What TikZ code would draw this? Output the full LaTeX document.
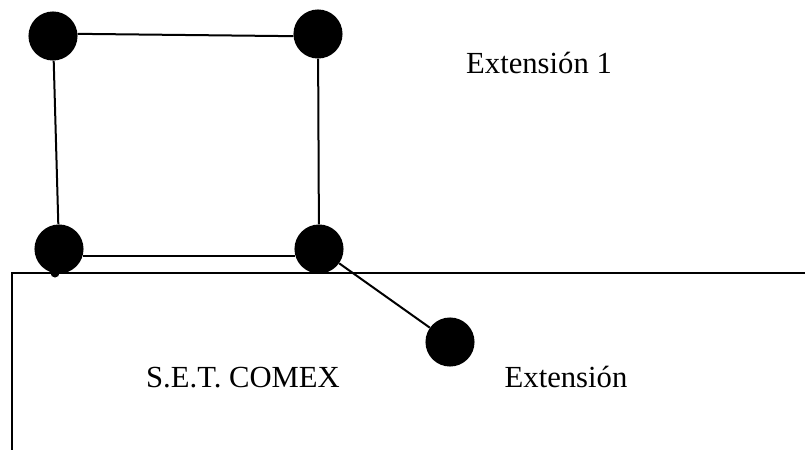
\documentclass[tikz,border=0pt]{standalone}
\usepackage{fontspec}
\setmainfont{Liberation Serif}
\begin{document}
\begin{tikzpicture}[x=0.75pt,y=-0.75pt,
  dot/.style={circle,fill=black,draw=none,minimum size=36.8pt,inner sep=0pt},
  conn/.style={line width=1.5pt,black},
  lbl/.style={anchor=base,font=\fontsize{23}{27}\selectfont,inner sep=0pt}]
\useasboundingbox (0,0) rectangle (805,450);
% rectangle (S.E.T. COMEX area)
\draw[conn] (805,273) -- (12,273) -- (12,450);
% nodes
\node[dot] (a) at (53,36) {};
\node[dot] (b) at (318,34) {};
\node[dot] (c) at (59,249) {};
\node[dot] (d) at (319,249) {};
\node[dot] (e) at (450,342) {};
\fill (55,273) circle (4.5);
% connectors
\draw[conn] (a.5) -- (b.185);
\draw[conn] (a) -- (c);
\draw[conn] (b) -- (d);
\draw[conn] (c.-17) -- (d.197);
\draw[conn] (d) -- (e);
% labels
\node[lbl] (t1) at (539,73) {Extensión 1};
\node[lbl] (t2) at (243,387) {S.E.T. COMEX};
\node[lbl] (t3) at (566,387) {Extensión};
\end{tikzpicture}
\end{document}
